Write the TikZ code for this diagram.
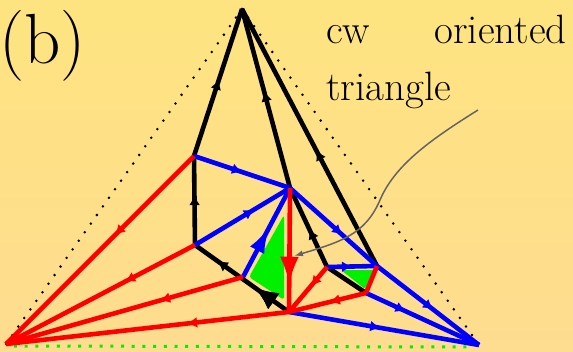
\documentclass[tikz,border=0pt]{standalone}
\usepackage{fontspec}
\usetikzlibrary{arrows.meta,decorations.markings,calc}
\definecolor{bgtop}{RGB}{254,228,128}
\definecolor{bgbot}{RGB}{254,220,144}
\definecolor{pgreen}{RGB}{0,240,0}
\definecolor{parrow}{RGB}{100,100,100}
\tikzset{
  edge/.style={line width=4.6pt},
  blk/.style={edge,black},
  blu/.style={edge,blue},
  rd/.style={edge,red},
  arr/.style={postaction={decorate},decoration={markings,
      mark=at position #1 with {\arrow{Latex[length=10pt,width=11pt]}}}},
  bigarr/.style 2 args={postaction={decorate},decoration={markings,
      mark=at position #1 with {\arrow{Latex[#2]}}}},
  outline/.style={line width=2.8pt,line cap=round,dash pattern=on 0pt off 10.5pt},
  gdots/.style={pgreen,line width=3pt,dash pattern=on 3pt off 7.7pt},
  txt/.style={inner sep=0pt,font=\fontsize{41}{49}\selectfont},
}
\begin{document}
\begin{tikzpicture}[x=1pt,y=-1pt]
\useasboundingbox (0,0) rectangle (573,351);
\shade[top color=bgtop,bottom color=bgbot] (0,0) rectangle (573,351);

% vertices
\coordinate (T) at (242,9);
\coordinate (L) at (6,344);
\coordinate (R) at (479,345);
\coordinate (A) at (194,156);
\coordinate (B) at (195,245);
\coordinate (C) at (290,188);
\coordinate (D) at (243,277);
\coordinate (E) at (289,312);
\coordinate (F) at (327,267);
\coordinate (G) at (377,266);
\coordinate (H) at (366,293);
\coordinate (gs) at (478,110);
\coordinate (gm) at (380,200);
\coordinate (gt) at (294,256);

% outer dotted triangle
\draw[outline] (T) -- (L);
\draw[outline] (T) -- (R);
\draw[gdots] (L) ++(8,2) -- ($(R)+(-8,2)$);

% green triangles
\fill[pgreen,rounded corners=3pt] (284,215) -- (284,300) -- (249,277) -- cycle;
\fill[pgreen,rounded corners=2pt] (341,270) -- (374,270) -- (365,289) -- cycle;

% black edges
\draw[blk,arr=0.52] (A) -- (T);
\draw[blk,arr=0.54] (C) -- (T);
\draw[blk,arr=0.45] (G) -- (T);
\draw[blk,arr=0.56] (B) -- (A);
\draw[blk,arr=0.48] (F) -- (C);
\draw[blk] (F) -- (H);
\draw[blk,arr=0.76,bigarr={0.37}{length=24pt,width=20pt}] (E) -- (B);

% blue edges
\draw[blu,arr=0.5] (A) -- (C);
\draw[blu,arr=0.62] (B) -- (C);
\draw[blu,arr=0.6] (C) -- (G);
\draw[blu,arr=0.55] (G) -- (R);
\draw[blu,arr=0.35] (H) -- (R);
\draw[blu,arr=0.48] (E) -- (R);
\draw[blu,arr=0.5] (F) -- (G);
\draw[blu,bigarr={0.57}{length=27pt,width=16pt}] (D) -- (C);

% red edges
\draw[rd,arr=0.42] (A) -- (L);
\draw[rd,arr=0.37] (B) -- (L);
\draw[rd,arr=0.35] (D) -- (L);
\draw[rd,arr=0.36] (E) -- (L);
\draw[rd,bigarr={0.78}{length=28pt,width=19pt}] (C) -- (E);
\draw[rd,arr=0.42] (F) -- (E);
\draw[rd,arr=0.47] (H) -- (E);
\draw[rd] (G) -- (H);

% gray pointer
\draw[parrow,line width=1.5pt,-{Latex[length=9pt,width=6pt]}]
  (gs) .. controls (430,140) and (395,165) .. (gm)
       .. controls (365,235) and (340,242) .. (gt);

% labels
\node[anchor=base west,inner sep=0pt,font=\fontsize{71}{76}\selectfont] (lab) at (-1,63) {(b)};
\node[txt,anchor=base west] (cw) at (326,43) {cw};
\node[txt,anchor=base east] (or) at (567,43) {oriented};
\node[txt,anchor=base west] (tri) at (326,100) {triangle};
\end{tikzpicture}
\end{document}
